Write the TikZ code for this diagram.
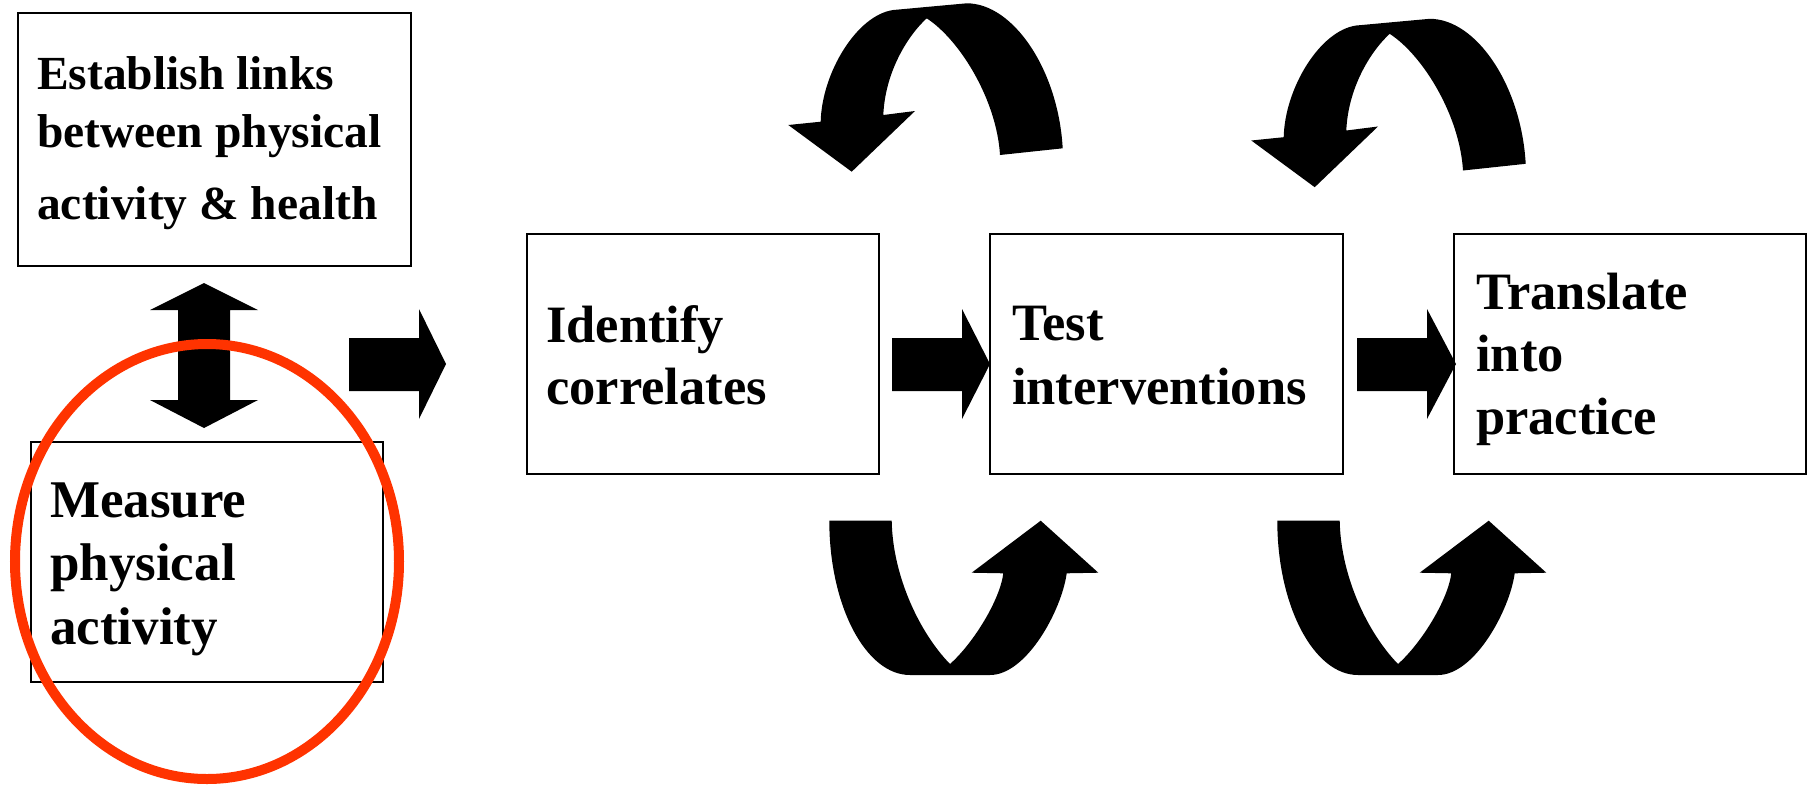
\documentclass[tikz,border=0pt]{standalone}
\usepackage{fontspec}
\setmainfont{Liberation Serif}
\usetikzlibrary{calc}
\definecolor{ringred}{RGB}{255,51,0}
\begin{document}
\begin{tikzpicture}[x=1pt,y=-1pt,
  box/.style={draw=black,line width=1.8pt,fill=white,inner sep=0pt,anchor=north west},
  lbl/.style={anchor=base west,inner sep=0pt,align=left,font=\bfseries\fontsize{53}{63}\selectfont},
  blockarrow/.style={fill=black},
  toparrow/.pic={
    \fill[black] (1062.7,148.3) .. controls (1058.3,70) and (1013.3,3.3) .. (966.7,3.3)
      -- (893.3,10) .. controls (856.7,15) and (821.7,73.3) .. (820.7,121.7)
      -- (788.3,125) -- (851.7,171.7) -- (915,111) -- (883.3,115)
      .. controls (885,73.3) and (906.7,36.7) .. (926.7,18.3)
      .. controls (960,40) and (996.7,100) .. (1000,155) -- cycle;
  },
  botarrow/.pic={
    \fill[black] (829.3,520.7) -- (891.7,520.7)
      .. controls (892.7,576.7) and (920,633.3) .. (950,664)
      .. controls (973.3,643.3) and (1000,600) .. (1003.3,573.3)
      -- (971.7,572.7) -- (1040.7,520.7) -- (1098.3,572.7) -- (1066.7,573.3)
      .. controls (1061.7,610) and (1026.7,675) .. (990,675)
      -- (910,675) .. controls (865.7,675) and (829.3,605.7) .. (829.3,520.7) -- cycle;
  }]
\useasboundingbox (0,0) rectangle (1810,785);

% boxes
\node[box,minimum width=393pt,minimum height=253pt] (est) at (17,12) {};
\node[box,minimum width=352pt,minimum height=240pt] (meas) at (30,441) {};
\node[box,minimum width=352pt,minimum height=240pt] (ident) at (526,233) {};
\node[box,minimum width=353pt,minimum height=240pt] (test) at (989,233) {};
\node[box,minimum width=352pt,minimum height=240pt] (trans) at (1453,233) {};

% labels (anchored at the baseline of the last line)
\node[lbl,font=\bfseries\fontsize{47.5}{58}\selectfont] (estT) at ($(est.north west)+(20,207)$)
  {Establish links\\between physical\\[14pt]activity \& health};
\node[lbl,font=\bfseries\fontsize{53}{63.5}\selectfont] (measT) at ($(meas.north west)+(20,203)$)
  {Measure\\physical\\activity};
\node[lbl,font=\bfseries\fontsize{52.5}{62}\selectfont] (identT) at ($(ident.north west)+(20,171)$)
  {Identify\\correlates};
\node[lbl,font=\bfseries\fontsize{52.5}{64}\selectfont] (testT) at ($(test.north west)+(23,171)$)
  {Test\\interventions};
\node[lbl,font=\bfseries\fontsize{52.5}{62.5}\selectfont] (transT) at ($(trans.north west)+(23,201)$)
  {Translate\\into\\practice};

% straight block arrows
\fill[blockarrow] (349,338) -- (419,338) -- (419,309) -- (446,364) -- (419,419) -- (419,391) -- (349,391) -- cycle;
\fill[blockarrow] (892,338) -- (962,338) -- (962,309) -- (990,364) -- (962,419) -- (962,391) -- (892,391) -- cycle;
\fill[blockarrow] (1357,338) -- (1427,338) -- (1427,309) -- (1456,364) -- (1427,419) -- (1427,391) -- (1357,391) -- cycle;

% double vertical arrow
\fill[blockarrow] (204,283) -- (258,310) -- (230,310) -- (230,400) -- (258,400) -- (204,428)
  -- (150,400) -- (178,400) -- (178,310) -- (150,310) -- cycle;

% curved arrows
\pic at (0,0) {toparrow};
\pic at (463,15.5) {toparrow};
\pic at (0,0) {botarrow};
\pic at (448,0) {botarrow};

% red ring
\draw[ringred,line width=10pt] (207,561.5) ellipse [x radius=192pt, y radius=217.5pt];
\end{tikzpicture}
\end{document}
